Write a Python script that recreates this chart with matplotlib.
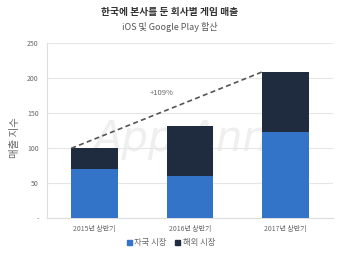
import matplotlib
matplotlib.use("Agg")
import matplotlib.pyplot as plt
import matplotlib.patches as mpatches

plt.rcParams['font.family'] = ['Noto Sans CJK KR', 'DejaVu Sans']

categories = ['2015년 상반기', '2016년 상반기', '2017년 상반기']
domestic = [70, 61, 124]
overseas = [30, 71, 85]
yticks = [0, 50, 100, 150, 200, 250]
ytick_labels = ['-', '50', '100', '150', '200', '250']
growth_label = '+109%'

blue = '#3373C8'
navy = '#1F2B3E'
gray_txt = '#666666'

fig = plt.figure(figsize=(3.4, 2.56), dpi=100)
ax = fig.add_axes([47/340, 1-218.3/256, (333-47)/340, (218.3-43.3)/256])

x = list(range(len(categories)))
w = 0.49
ax.bar(x, domestic, width=w, color=blue, zorder=3, label='자국 시장')
ax.bar(x, overseas, width=w, bottom=domestic, color=navy, zorder=3, label='해외 시장')

totals = [d + o for d, o in zip(domestic, overseas)]
ax.plot([x[0] - w/2, x[2] - w/2], [totals[0], totals[2]], linestyle=(0, (3, 2)),
        color='#555555', lw=1.2, zorder=4)
ax.text(0.70, 179, growth_label, fontsize=5.5, color=gray_txt, ha='center', va='center')

ax.text(1.1, 114, 'App Annie', fontsize=30, color='#efefef', style='italic',
        ha='center', va='center', zorder=1, family='DejaVu Sans')

ax.set_xlim(-0.5, 2.5)
ax.set_ylim(0, 250)
ax.set_yticks(yticks)
ax.set_yticklabels(ytick_labels)
ax.set_xticks(x)
ax.set_xticklabels(categories)
ax.tick_params(axis='both', length=0, labelsize=5, labelcolor=gray_txt)
ax.tick_params(axis='y', pad=6)
ax.tick_params(axis='x', pad=5)
ax.grid(axis='y', color='#e6e6e6', lw=0.8, zorder=0)
for s in ['top', 'right']:
    ax.spines[s].set_visible(False)
for s in ['left', 'bottom']:
    ax.spines[s].set_color('#dddddd')
    ax.spines[s].set_linewidth(0.8)

fig.text(15/340, 1-138/256, '매출 지수', fontsize=7.5, color=gray_txt, rotation=90,
         ha='center', va='center')

fig.text(170/340, 1-12/256, '한국에 본사를 둔 회사별 게임 매출', fontsize=7,
         fontweight='bold', color='#333333', ha='center', va='center')
fig.text(170/340, 1-27/256, 'iOS 및 Google Play 합산', fontsize=6.5,
         color='#555555', ha='center', va='center')

handles = [mpatches.Patch(color=blue), mpatches.Patch(color=navy)]
fig.legend(handles, ['자국 시장', '해외 시장'], loc='center', bbox_to_anchor=(171/340, 1-243/256),
           ncol=2, frameon=False, fontsize=6, handlelength=0.6, handleheight=0.6,
           handletextpad=0.3, columnspacing=1.0, labelcolor=gray_txt)

fig.savefig('out.png', dpi=100)
